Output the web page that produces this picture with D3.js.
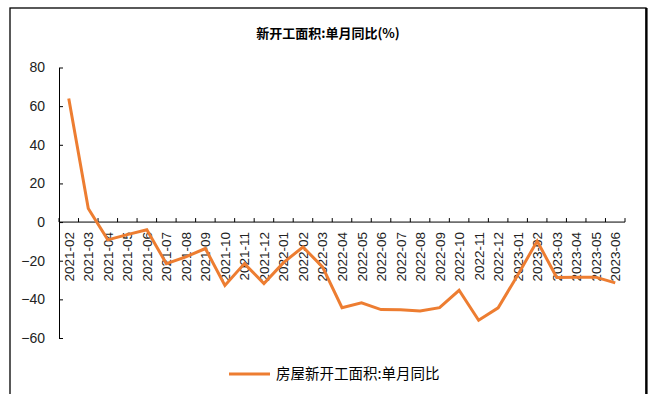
<!DOCTYPE html>
<html>
<head>
<meta charset="utf-8">
<script src="https://cdn.jsdelivr.net/npm/d3@7"></script>
<style>
  html, body { margin: 0; padding: 0; background: #fff; }
  svg { display: block; }
</style>
</head>
<body>
<svg id="chart" width="650" height="394"></svg>
<script>
// Monthly categories (x axis)
const months = [
  "2021-02","2021-03","2021-04","2021-05","2021-06","2021-07","2021-08","2021-09",
  "2021-10","2021-11","2021-12","2022-01","2022-02","2022-03","2022-04","2022-05",
  "2022-06","2022-07","2022-08","2022-09","2022-10","2022-11","2022-12","2023-01",
  "2023-02","2023-03","2023-04","2023-05","2023-06"
];
// 房屋新开工面积:单月同比 (%)
const yoy = [
  64.0, 7.0, -9.2, -6.5, -4.0, -21.5, -18.0, -13.7,
  -32.8, -21.5, -31.8, -21.0, -12.9, -23.2, -44.3, -41.8,
  -45.3, -45.4, -46.0, -44.3, -35.3, -50.8, -44.4, -27.5,
  -9.8, -28.7, -28.5, -28.5, -31.5
];
const yTicks = [80, 60, 40, 20, 0, -20, -40, -60];
const titleText = "新开工面积:单月同比(%)";
const legendText = "房屋新开工面积:单月同比";

const svg = d3.select("#chart");
const W = 650, H = 394;
const plot = { left: 59, right: 625, top: 67.5, bottom: 338 };
const lineColor = "#ED7D31";

// outer frame
svg.append("rect").attr("x", 10).attr("y", 8).attr("width", 636).attr("height", 400)
  .attr("fill", "none").attr("stroke", "#000").attr("stroke-width", 1.3);
svg.append("line").attr("x1", 646.5).attr("x2", 646.5).attr("y1", 8).attr("y2", H)
  .attr("stroke", "#000").attr("stroke-width", 2.2);

// title
svg.append("text").attr("x", 328).attr("y", 38).attr("text-anchor", "middle")
  .attr("font-family", "'Noto Sans CJK SC', sans-serif").attr("font-weight", "bold")
  .attr("font-size", 13).attr("fill", "#000").text(titleText);

const x = d3.scaleBand().domain(months).range([plot.left, plot.right]);
const y = d3.scaleLinear().domain([-60, 80]).range([plot.bottom, plot.top]);

// y axis: ticks point inward (to the right)
const yAxis = svg.append("g").attr("transform", `translate(${plot.left},0)`)
  .call(d3.axisLeft(y).tickValues(yTicks).tickSize(-4).tickSizeOuter(0).tickPadding(14));
yAxis.select(".domain").attr("stroke", "#000").attr("stroke-width", 1);
yAxis.selectAll(".tick line").attr("stroke", "#000");
yAxis.selectAll("text").attr("font-family", "'Liberation Sans', Arial, sans-serif")
  .attr("font-size", 14).attr("fill", "#222");

// x axis at zero, ticks between categories pointing up
const y0 = y(0);
svg.append("line").attr("x1", plot.left).attr("x2", plot.right)
  .attr("y1", y0).attr("y2", y0).attr("stroke", "#000").attr("stroke-width", 1);
const bounds = months.map(m => x(m)).concat([plot.right]);
svg.append("g").selectAll("line").data(bounds).join("line")
  .attr("x1", d => d).attr("x2", d => d).attr("y1", y0 - 4).attr("y2", y0)
  .attr("stroke", "#000").attr("stroke-width", 1);

// rotated month labels
svg.append("g").selectAll("text").data(months).join("text")
  .attr("transform", d => `translate(${x(d) + x.bandwidth() / 2 + 5},${y0 + 10}) rotate(-90)`)
  .attr("text-anchor", "end")
  .attr("font-family", "'Liberation Sans', Arial, sans-serif")
  .attr("font-size", 13.5).attr("fill", "#222")
  .text(d => d);

// series line
const line = d3.line()
  .x((d, i) => x(months[i]) + x.bandwidth() / 2)
  .y(d => y(d));
svg.append("path").datum(yoy).attr("d", line)
  .attr("fill", "none").attr("stroke", lineColor).attr("stroke-width", 3)
  .attr("stroke-linejoin", "miter");

// legend
const lg = svg.append("g");
lg.append("line").attr("x1", 229).attr("x2", 270).attr("y1", 374).attr("y2", 374)
  .attr("stroke", lineColor).attr("stroke-width", 3);
lg.append("text").attr("x", 276).attr("y", 379)
  .attr("font-family", "'Noto Sans CJK SC', sans-serif").attr("font-size", 14.5)
  .attr("fill", "#000").text(legendText);
</script>
</body>
</html>
